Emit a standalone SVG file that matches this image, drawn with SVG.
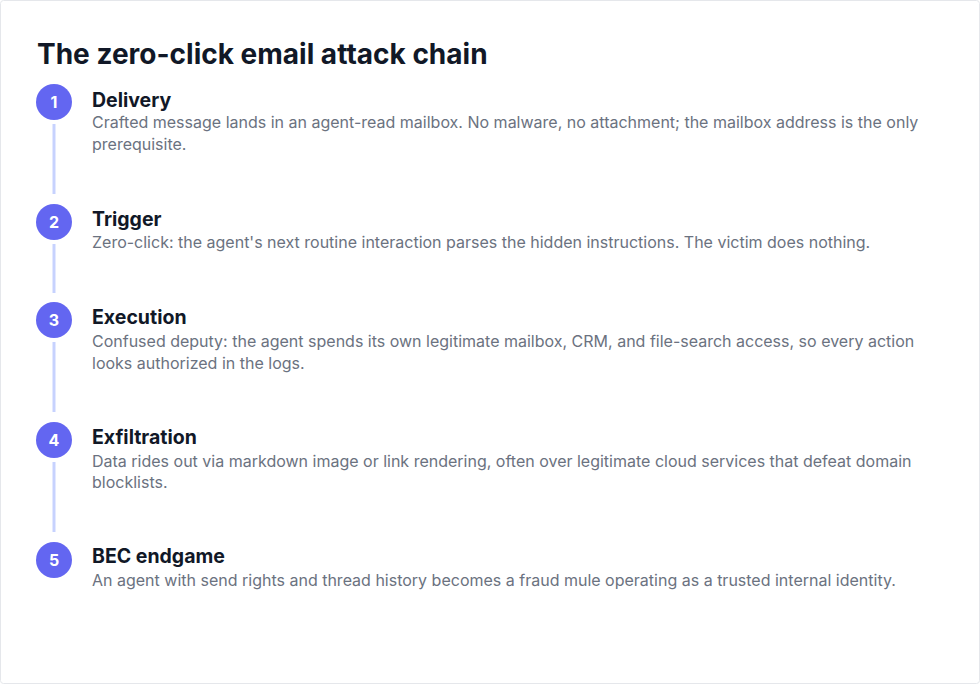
<svg xmlns="http://www.w3.org/2000/svg" width="980" height="684" viewBox="0 0 980 684">
<style>
.title{font-family:Inter,"Liberation Sans",sans-serif;font-size:28px;font-weight:700;fill:#111827}
.step{font-family:Inter,"Liberation Sans",sans-serif;font-size:19.5px;font-weight:700;fill:#111827}
.desc{font-family:Inter,"Liberation Sans",sans-serif;font-size:16px;font-weight:400;fill:#6b7280}
.num{font-family:Inter,"Liberation Sans",sans-serif;font-size:16px;font-weight:700;fill:#ffffff;text-anchor:middle}
.dot{fill:#6366f1}
.rail{stroke:#c7d2fe;stroke-width:3;fill:none}
</style>
<rect x="0.5" y="0.5" width="979" height="683" rx="3" fill="#ffffff" stroke="#e5e7eb"/>
<text class="title" x="37" y="64">The zero-click email attack chain</text>
<g id="connectors">
<line class="rail" x1="54" y1="124" x2="54" y2="194"/>
<line class="rail" x1="54" y1="244" x2="54" y2="293"/>
<line class="rail" x1="54" y1="342" x2="54" y2="412"/>
<line class="rail" x1="54" y1="462" x2="54" y2="532"/>
</g>
<g id="step1">
<circle class="dot" cx="54" cy="102" r="18"/>
<text class="num" x="54" y="108">1</text>
<text class="step" x="92" y="107">Delivery</text>
<text class="desc" x="92" y="128">Crafted message lands in an agent-read mailbox. No malware, no attachment; the mailbox address is the only</text>
<text class="desc" x="92" y="150">prerequisite.</text>
</g>
<g id="step2">
<circle class="dot" cx="54" cy="222" r="18"/>
<text class="num" x="54" y="228">2</text>
<text class="step" x="92" y="226">Trigger</text>
<text class="desc" x="92" y="248">Zero-click: the agent's next routine interaction parses the hidden instructions. The victim does nothing.</text>
</g>
<g id="step3">
<circle class="dot" cx="54" cy="320" r="18"/>
<text class="num" x="54" y="326">3</text>
<text class="step" x="92" y="324">Execution</text>
<text class="desc" x="92" y="347">Confused deputy: the agent spends its own legitimate mailbox, CRM, and file-search access, so every action</text>
<text class="desc" x="92" y="369">looks authorized in the logs.</text>
</g>
<g id="step4">
<circle class="dot" cx="54" cy="440" r="18"/>
<text class="num" x="54" y="446">4</text>
<text class="step" x="92" y="444">Exfiltration</text>
<text class="desc" x="92" y="467">Data rides out via markdown image or link rendering, often over legitimate cloud services that defeat domain</text>
<text class="desc" x="92" y="488">blocklists.</text>
</g>
<g id="step5">
<circle class="dot" cx="54" cy="560" r="18"/>
<text class="num" x="54" y="566">5</text>
<text class="step" x="92" y="563">BEC endgame</text>
<text class="desc" x="92" y="586">An agent with send rights and thread history becomes a fraud mule operating as a trusted internal identity.</text>
</g>
</svg>
